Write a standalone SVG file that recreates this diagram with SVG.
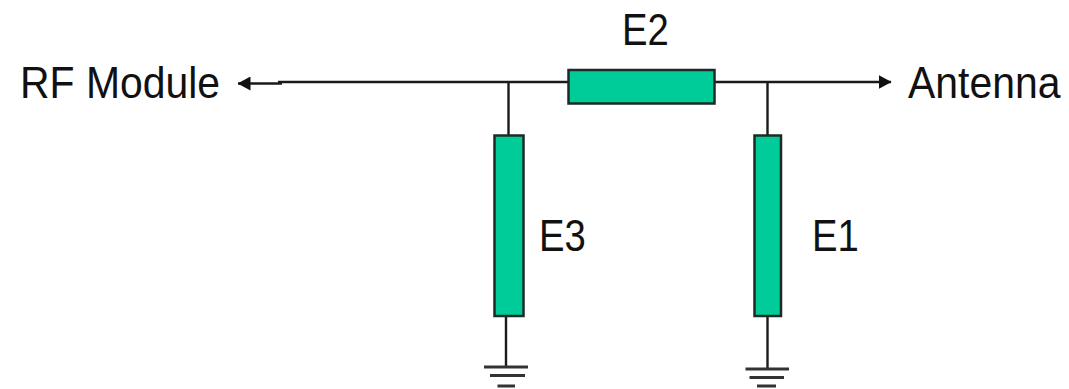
<svg xmlns="http://www.w3.org/2000/svg" width="1069" height="389" viewBox="0 0 1069 389">
<style>
.t{font-family:"Liberation Sans",Arial,sans-serif;font-size:44px;fill:#111}
.b{fill:#00cc99;stroke:#1c2b26;stroke-width:2.500}
.c{stroke:#1a1a1a;stroke-width:2.400;fill:none}
.g{stroke:#333;stroke-width:2.800;fill:none}
</style>
<defs>
<marker id="a" viewBox="0 0 13 14" refX="12.500" refY="7" markerWidth="13" markerHeight="14" markerUnits="userSpaceOnUse" orient="auto-start-reverse"><path d="M0 0L13 7L0 14Z" fill="#111"/></marker>
</defs>
<rect width="1069" height="389" fill="#fff"/>
<g id="connectors">
<path class="c" d="M569 82H278"/>
<path class="c" d="M282 83.500H238" marker-end="url(#a)"/>
<path class="c" d="M715 82H891" marker-end="url(#a)"/>
<path class="c" d="M508.500 82V135"/>
<path class="c" d="M767.500 82V135"/>
<path class="c" d="M506 316V367"/>
<path class="c" d="M767.500 316V369"/>
</g>
<g id="E2"><rect class="b" x="568.500" y="70" width="146" height="33.500"/><text class="t" transform="translate(622 45) scale(.87 1)">E2</text></g>
<g id="E3"><rect class="b" x="494.500" y="135.500" width="29" height="180.500"/><text class="t" transform="translate(539 251) scale(.87 1)">E3</text></g>
<g id="E1"><rect class="b" x="754.500" y="135.500" width="26.500" height="180.500"/><text class="t" transform="translate(812 251) scale(.87 1)">E1</text></g>
<g id="RF"><text class="t" transform="translate(20 98) scale(.93 1)">RF Module</text></g>
<g id="Antenna"><text class="t" transform="translate(908 98) scale(.93 1)">Antenna</text></g>
<g id="ground1"><path class="g" d="M484 367H528M490 375.500H525M497.500 386H515"/></g>
<g id="ground2"><path class="g" d="M745.500 369H789M749.500 377.500H784M757 386H776"/></g>
</svg>
